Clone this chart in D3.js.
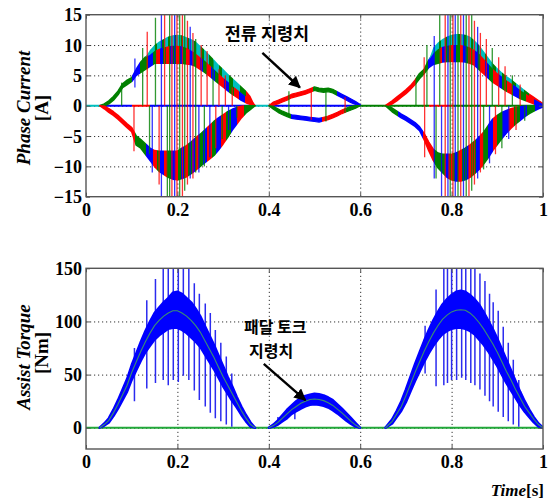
<!DOCTYPE html>
<html><head><meta charset="utf-8">
<script src="https://cdn.jsdelivr.net/npm/d3@7"></script>
<style>body{margin:0;background:#fff;} svg{display:block;}</style>
</head><body><svg id="c" width="560" height="502"></svg>
<script>
// ---------------- DATA ----------------
const xTicks = [0, 0.2, 0.4, 0.6, 0.8, 1];
const xTickLabels = ["0", "0.2", "0.4", "0.6", "0.8", "1"];
const yTicksTop = [-15, -10, -5, 0, 5, 10, 15];
const yTicksBot = [0, 50, 100, 150];

// sample times of the three conduction segments
const tA = [0.03,0.04,0.05,0.06,0.07,0.08,0.09,0.10,0.11,0.12,0.13,0.14,0.15,0.16,0.17,0.18,0.19,0.20,0.21,0.22,0.23,0.24,0.25,0.26,0.27,0.28,0.29,0.30,0.31,0.32,0.33,0.34,0.35,0.36,0.37];
const tB = [0.40,0.41,0.42,0.43,0.44,0.45,0.46,0.47,0.48,0.49,0.50,0.51,0.52,0.53,0.54,0.55,0.56,0.57,0.58,0.59,0.60];
const tC = [0.655,0.67,0.68,0.69,0.70,0.71,0.72,0.73,0.74,0.75,0.76,0.77,0.78,0.79,0.80,0.81,0.82,0.83,0.84,0.85,0.86,0.87,0.88,0.89,0.90,0.91,0.92,0.93,0.94,0.95,0.96,0.97,0.98,0.99,1.0];

// phase current envelopes [A]
const posTopA = [0,0.3,0.8,1.5,2.4,3.6,4.2,4.6,6.0,7.2,8.0,9.2,10.0,10.6,11.0,11.4,11.6,11.7,11.6,11.3,11.0,10.6,9.9,9.2,8.4,7.6,6.8,6.1,5.3,4.6,3.9,3.2,2.5,1.6,0];
const posMidA = [0,0.3,0.8,1.5,2.4,3.6,4.2,4.6,6.0,7.2,8.0,8.4,9.0,9.4,9.6,9.8,9.9,9.9,9.8,9.5,9.1,8.6,8.0,7.4,6.7,6.0,5.3,4.6,4.0,3.3,2.7,2.1,1.5,0.9,0];
const posBotA = [0,0,0.3,0.9,1.8,3.0,3.5,4.0,5.0,5.5,6.0,6.5,7.0,7.0,7.0,7.0,7.0,7.0,7.0,6.9,6.8,6.5,6.0,5.5,4.9,4.3,3.7,3.1,2.5,1.9,1.4,0.9,0.5,0.2,0];
const negHiA = [0,-0.1,-0.5,-1.0,-1.6,-2.3,-3.0,-3.6,-5.0,-5.6,-6.3,-7.0,-7.4,-7.5,-7.5,-7.5,-7.5,-7.5,-7.0,-6.6,-6.0,-5.3,-4.7,-4.0,-3.3,-2.6,-2.0,-1.5,-1.0,-0.6,-0.3,-0.1,0,0,0];
const negLoA = [0,-0.5,-1.1,-1.6,-2.2,-2.9,-3.6,-4.3,-6.5,-7.0,-8.0,-9.0,-10.0,-10.8,-11.3,-11.8,-12.1,-12.2,-12.0,-11.7,-11.2,-10.6,-10.0,-9.4,-8.8,-8.2,-7.3,-6.3,-5.2,-4.0,-3.0,-2.0,-1.2,-0.6,0];

const posTopB = [0,0.6,0.9,1.2,1.5,1.9,2.1,2.3,2.5,2.8,3.1,2.9,2.8,2.9,2.7,2.3,1.9,1.5,1.1,0.7,0.2];
const posBotB = [0,0.1,0.3,0.6,0.9,1.3,1.5,1.7,1.9,2.2,2.5,2.3,2.2,2.3,2.1,1.7,1.3,0.9,0.5,0.2,0];
const negHiB = [0,-0.1,-0.5,-0.9,-1.2,-1.5,-1.6,-1.7,-1.8,-1.9,-2.0,-2.1,-1.9,-1.7,-1.4,-1.1,-0.7,-0.4,-0.1,0,0];
const negLoB = [0,-0.6,-1.1,-1.5,-1.8,-2.1,-2.2,-2.3,-2.4,-2.5,-2.6,-2.7,-2.5,-2.3,-2.0,-1.7,-1.3,-1.0,-0.7,-0.4,0];

const posTopC = [0,0.8,1.4,2.0,2.6,3.3,4.2,5.3,6.0,7.5,9.6,10.4,11.0,11.4,11.7,11.8,11.8,11.7,11.4,10.8,10.0,9.0,8.0,7.0,6.2,5.5,4.9,4.4,3.8,3.2,2.6,2.0,1.5,1.0,0.5];
const posMidC = [0,0.8,1.4,2.0,2.6,3.3,4.2,5.3,6.0,7.5,8.6,9.3,9.7,9.9,10.0,10.0,10.0,9.9,9.6,9.2,8.6,7.8,6.9,6.1,5.4,4.8,4.2,3.7,3.2,2.6,2.1,1.6,1.1,0.7,0.3];
const posBotC = [0,0.3,0.8,1.4,2.0,2.7,3.5,4.5,5.3,6.3,6.8,7.0,7.2,7.3,7.3,7.3,7.3,7.2,7.0,6.7,6.0,5.3,4.6,3.9,3.4,2.9,2.4,2.0,1.6,1.2,0.9,0.6,0.3,0.1,0];
const negHiC = [0,-0.4,-0.9,-1.4,-1.8,-2.3,-2.8,-3.5,-4.6,-6.0,-7.2,-7.8,-8.0,-8.0,-8.0,-7.8,-7.4,-7.0,-6.5,-5.9,-5.2,-4.4,-3.3,-2.2,-1.6,-1.1,-0.8,-0.5,-0.3,-0.2,-0.1,0,0,0,0];
const negLoC = [0,-1.0,-1.5,-2.0,-2.4,-2.9,-3.4,-4.1,-5.6,-7.4,-9.0,-10.2,-11.0,-11.8,-12.2,-12.4,-12.4,-12.2,-11.8,-11.2,-10.5,-9.6,-8.6,-7.4,-6.4,-5.4,-4.5,-3.7,-3.0,-2.4,-1.8,-1.3,-0.9,-0.5,-0.2];

// which phase conducts (colour blocks) [t0, t1, phase]
const posBlocksA = [[0.03,0.10,"g"],[0.10,0.118,"b"],[0.118,0.135,"g"],[0.135,0.146,"b"],[0.146,0.153,"g"],[0.153,0.161,"r"],[0.161,0.168,"b"],[0.168,0.175,"g"],[0.175,0.183,"r"],[0.183,0.190,"b"],[0.190,0.197,"g"],[0.197,0.205,"r"],[0.205,0.212,"b"],[0.212,0.219,"g"],[0.219,0.227,"r"],[0.227,0.234,"b"],[0.234,0.241,"g"],[0.241,0.249,"r"],[0.249,0.257,"b"],[0.257,0.265,"g"],[0.265,0.274,"r"],[0.274,0.283,"b"],[0.283,0.292,"g"],[0.292,0.302,"r"],[0.302,0.312,"b"],[0.312,0.323,"g"],[0.323,0.335,"r"],[0.335,0.348,"b"],[0.348,0.37,"r"]];
const topBlocksA = [[0.14,0.152,"c"],[0.152,0.156,"g"],[0.156,0.166,"c"],[0.166,0.170,"g"],[0.170,0.180,"c"],[0.180,0.184,"g"],[0.184,0.194,"c"],[0.194,0.198,"g"],[0.198,0.208,"c"],[0.208,0.212,"g"],[0.212,0.222,"c"],[0.222,0.226,"g"],[0.226,0.236,"c"],[0.236,0.241,"g"],[0.241,0.252,"c"],[0.252,0.258,"g"],[0.258,0.270,"c"],[0.270,0.277,"g"],[0.277,0.290,"c"],[0.290,0.298,"g"],[0.298,0.312,"c"],[0.312,0.322,"g"],[0.322,0.338,"c"],[0.338,0.35,"g"],[0.35,0.37,"r"]];
const negBlocksA = [[0.03,0.108,"r"],[0.108,0.132,"g"],[0.132,0.146,"b"],[0.146,0.155,"r"],[0.155,0.163,"g"],[0.163,0.171,"b"],[0.171,0.179,"r"],[0.179,0.186,"g"],[0.186,0.193,"b"],[0.193,0.201,"r"],[0.201,0.208,"g"],[0.208,0.215,"b"],[0.215,0.223,"r"],[0.223,0.231,"g"],[0.231,0.239,"b"],[0.239,0.247,"r"],[0.247,0.256,"g"],[0.256,0.265,"b"],[0.265,0.275,"r"],[0.275,0.285,"g"],[0.285,0.295,"b"],[0.295,0.306,"r"],[0.306,0.318,"g"],[0.318,0.331,"b"],[0.331,0.345,"r"],[0.345,0.37,"g"]];
const posBlocksB = [[0.40,0.497,"r"],[0.497,0.55,"g"],[0.55,0.60,"b"]];
const negBlocksB = [[0.40,0.448,"g"],[0.448,0.516,"b"],[0.516,0.565,"r"],[0.565,0.60,"g"]];
const posBlocksC = [[0.655,0.722,"r"],[0.722,0.748,"g"],[0.748,0.762,"b"],[0.762,0.772,"g"],[0.772,0.780,"r"],[0.780,0.788,"b"],[0.788,0.795,"g"],[0.795,0.803,"r"],[0.803,0.810,"b"],[0.810,0.818,"g"],[0.818,0.825,"r"],[0.825,0.833,"b"],[0.833,0.840,"g"],[0.840,0.848,"r"],[0.848,0.856,"b"],[0.856,0.864,"g"],[0.864,0.873,"r"],[0.873,0.882,"b"],[0.882,0.891,"g"],[0.891,0.901,"r"],[0.901,0.911,"b"],[0.911,0.922,"g"],[0.922,0.934,"r"],[0.934,0.947,"b"],[0.947,0.962,"g"],[0.962,0.98,"r"],[0.98,1.0,"b"]];
const topBlocksC = [[0.76,0.772,"c"],[0.772,0.776,"g"],[0.776,0.786,"c"],[0.786,0.790,"g"],[0.790,0.800,"c"],[0.800,0.804,"g"],[0.804,0.814,"c"],[0.814,0.818,"g"],[0.818,0.828,"c"],[0.828,0.832,"g"],[0.832,0.842,"c"],[0.842,0.846,"g"],[0.846,0.856,"c"],[0.856,0.861,"g"],[0.861,0.872,"c"],[0.872,0.878,"g"],[0.878,0.890,"c"],[0.890,0.897,"g"],[0.897,0.910,"c"],[0.910,0.918,"g"],[0.918,0.932,"c"],[0.932,0.942,"g"],[0.942,0.958,"c"],[0.958,0.97,"g"],[0.97,1.0,"r"]];
const negBlocksC = [[0.655,0.683,"g"],[0.683,0.738,"b"],[0.738,0.762,"r"],[0.762,0.785,"g"],[0.785,0.793,"b"],[0.793,0.800,"r"],[0.800,0.808,"g"],[0.808,0.815,"b"],[0.815,0.823,"r"],[0.823,0.830,"g"],[0.830,0.838,"b"],[0.838,0.846,"r"],[0.846,0.854,"g"],[0.854,0.862,"b"],[0.862,0.871,"r"],[0.871,0.880,"g"],[0.880,0.890,"b"],[0.890,0.900,"r"],[0.900,0.911,"g"],[0.911,0.923,"b"],[0.923,0.936,"r"],[0.936,0.950,"g"],[0.950,0.966,"b"],[0.966,0.983,"g"],[0.983,1.0,"b"]];
const zeroBlocks = [[0,0.03,"c"],[0.03,0.10,"b"],[0.10,0.14,"r"],[0.14,0.37,"b"],[0.37,0.40,"c"],[0.40,0.60,"b"],[0.60,0.75,"g"],[0.75,0.80,"r"],[0.80,1.0,"g"]];

// commutation spikes [t, from, to, phase]
const currentSpikes = [
 [0.078,0,3.8,"g"],[0.105,-7.5,0,"r"],[0.107,3,7.8,"b"],[0.124,0,9.5,"g"],[0.134,0,12.2,"r"],[0.139,-8,0,"g"],[0.145,-11,0,"b"],[0.152,0,14.5,"g"],[0.160,-13,0,"r"],[0.165,-15,15,"b"],[0.172,0,15,"r"],[0.178,-15,0,"g"],[0.183,-15,15,"g"],[0.188,-15,15,"r"],[0.194,-15,15,"b"],[0.199,-15,15,"r"],[0.205,-15,15,"g"],[0.211,-15,15,"r"],[0.216,-14,15,"g"],[0.222,-13,14,"r"],[0.228,-12,13,"b"],[0.234,-12,12,"r"],[0.240,-11,11,"g"],[0.247,-11,0,"b"],[0.252,0,10,"r"],[0.259,-10,0,"g"],[0.265,0,9,"r"],[0.271,-8.5,0,"b"],[0.278,0,7.5,"g"],[0.284,-7,0,"r"],[0.291,0,6,"r"],[0.298,-5.5,0,"g"],[0.305,0,5,"r"],[0.312,-4,0,"b"],[0.320,0,3,"r"],[0.330,-2,0,"g"],
 [0.444,-1.8,2.4,"g"],[0.493,-2.3,2.9,"r"],[0.525,-2.6,2.8,"g"],[0.567,-1.2,1.4,"r"],
 [0.722,0,4.5,"g"],[0.740,0,8.0,"r"],[0.741,-8.5,0,"r"],[0.746,0,10,"g"],[0.762,-12,11.5,"b"],[0.766,-12,0,"g"],[0.774,0,15,"g"],[0.778,-15,0,"b"],[0.786,-15,15,"r"],[0.792,-15,15,"b"],[0.797,-15,15,"g"],[0.803,-15,15,"r"],[0.808,-15,15,"b"],[0.814,-15,15,"g"],[0.820,-15,15,"r"],[0.826,-15,15,"b"],[0.832,-15,15,"g"],[0.838,-15,15,"r"],[0.844,-14,15,"g"],[0.850,-13,14,"r"],[0.857,-12,13,"b"],[0.863,-11,12,"r"],[0.870,-10.5,0,"g"],[0.876,0,11,"r"],[0.883,-9.5,0,"b"],[0.889,0,9.5,"g"],[0.896,-8,0,"r"],[0.903,0,8,"r"],[0.910,-7,0,"g"],[0.917,0,6.5,"r"],[0.925,-5.5,0,"b"],[0.933,0,5,"g"],[0.941,-4,0,"r"],[0.950,0,3.5,"r"],[0.960,-2.5,0,"g"]
];

// assist torque [Nm]: reference (pedal torque command) and ripple envelope
const refA = [0,3,7,14,22,31,40,52,62,72,81,89,96,101,105,108,110,110,108,105,101,96,90,82,74,66,57,48,40,32,24,16,9,3,0];
const hiA  = [0,4,9,17,26,36,46,59,70,81,91,100,108,113,118,122,127,128,126,122,118,112,105,96,87,78,68,58,48,39,29,20,12,5,0];
const loA  = [0,2,5,11,18,26,34,45,54,63,71,77,83,87,90,93,94,94,92,89,85,81,76,69,62,55,47,39,32,25,19,12,6,1,0];
const refB = [0,2,5,9,13,17,20,23,25,26.5,27,26.5,25.5,23.5,21,17.5,14,10,6,2.5,0];
const hiB  = [0,3,7,12,17,21,25,28,30,31,32,31.5,30.5,28.5,26,22,18,13.5,9,4.5,0];
const loB  = [0,1,3,6,9,13,15.5,18,20,21.5,22,21.5,20.5,19,16.5,13.5,10,6.5,3.5,1,0];
const refC = [0,6,13,20,30,41,52,62,72,81,89,96,102,106,109,110.5,111,110.5,108,104,99,93,86,79,71,62,53,45,36,28,20,14,8,3,0];
const hiC  = [0,8,16,25,36,48,60,71,82,92,101,109,116,121,125,128,129,128,125,121,116,109,101,93,84,74,64,54,44,34,25,17,10,4,0];
const loC  = [0,4,10,16,24,34,44,53,62,70,77,83,88,91,93,94,94,93,91,88,83,78,72,65,58,50,42,35,28,21,15,10,5,1,0];
const torqueSpikes = [
 [0.106,25,75],[0.133,37,120],[0.152,42,140],[0.169,45,150],[0.180,40,150],[0.191,45,150],[0.202,43,150],[0.213,49,150],[0.225,45,150],[0.237,35,136],[0.248,26,126],[0.261,20,117],[0.272,14,108],[0.283,9,92],[0.295,6,80],[0.307,3,67],[0.319,1,51],
 [0.420,4,10],[0.457,8,20],
 [0.742,51,96],[0.766,39,130],[0.783,40,150],[0.791,42,150],[0.800,45,150],[0.811,45,150],[0.822,47,150],[0.831,45,150],[0.842,42,150],[0.851,40,150],[0.862,36,145],[0.873,30,138],[0.883,25,126],[0.891,20,118],[0.902,15,110],[0.913,10,95],[0.924,6,80],[0.935,3,64],[0.947,1,45]
];

// annotations (data coordinates)
const noteTop = {text: "전류 지령치", t: 0.396, v: 11.8, from: [0.386, 8.7], to: [0.468, 3.0]};
const noteBot = {lines: ["패달 토크", "지령치"], t: [0.414, 0.405], v: [94.5, 72], from: [0.389, 60], to: [0.48, 26]};

// ---------------- DRAW ----------------
const COL = {r: "#ff0000", g: "#008000", b: "#0000ff", c: "#00bfbf"};
const svg = d3.select("#c");
const defs = svg.append("defs");
const L = 86, R = 543;
const topY0 = 14.7, topY1 = 196.7, botY0 = 268.3, botY1 = 449;
const x = d3.scaleLinear().domain([0, 1]).range([L, R]);
const yT = d3.scaleLinear().domain([-15, 15]).range([topY1, topY0]);
const yB = d3.scaleLinear().domain([-20, 150]).range([botY1, botY0]);
const serif = "'Liberation Serif','Times New Roman',serif";
const frameCol = "#555";

let gid = 0;
function blockGradient(blocks) {
  const id = "gr" + (gid++);
  const g = defs.append("linearGradient").attr("id", id).attr("gradientUnits", "userSpaceOnUse")
    .attr("x1", x(0)).attr("x2", x(1)).attr("y1", 0).attr("y2", 0);
  blocks.forEach(([t0, t1, c]) => {
    g.append("stop").attr("offset", t0).attr("stop-color", COL[c]);
    g.append("stop").attr("offset", t1).attr("stop-color", COL[c]);
  });
  return `url(#${id})`;
}
function clip(id, y0, y1) {
  defs.append("clipPath").attr("id", id).append("rect")
    .attr("x", L).attr("y", y0).attr("width", R - L).attr("height", y1 - y0);
}
clip("clipTop", topY0, topY1);
clip("clipBot", botY0, botY1);

function drawFrame(y, y0, y1, grid) {
  const g = svg.append("g");
  g.append("g").attr("transform", `translate(0,${y1})`)
    .call(d3.axisBottom(x).tickValues([0.2, 0.4, 0.6, 0.8]).tickSize(-(y1 - y0)).tickFormat(""))
    .call(s => s.select(".domain").remove())
    .call(s => s.selectAll("line").attr("stroke", "#333").attr("stroke-dasharray", "1.2,2.8").attr("stroke-width", 1));
  g.append("g").attr("transform", `translate(${L},0)`)
    .call(d3.axisLeft(y).tickValues(grid).tickSize(-(R - L)).tickFormat(""))
    .call(s => s.select(".domain").remove())
    .call(s => s.selectAll("line").attr("stroke", "#333").attr("stroke-dasharray", "1.2,2.8").attr("stroke-width", 1));
}
function drawAxes(y, y0, y1, yTicks, labelBaseline) {
  const g = svg.append("g");
  const fontS = s => s.selectAll("text").attr("font-family", serif).attr("font-weight", "bold").attr("font-size", 18).attr("fill", "#000");
  g.append("g").attr("transform", `translate(0,${y1})`)
    .call(d3.axisBottom(x).tickValues(xTicks).tickSize(-4).tickPadding(0).tickFormat((d, i) => xTickLabels[i]))
    .call(s => s.select(".domain").remove())
    .call(s => s.selectAll("line").attr("stroke", frameCol))
    .call(fontS)
    .call(s => s.selectAll("text").attr("y", labelBaseline - y1).attr("dy", null));
  g.append("g").attr("transform", `translate(0,${y0})`)
    .call(d3.axisTop(x).tickValues(xTicks).tickSize(-4).tickFormat(""))
    .call(s => s.select(".domain").remove())
    .call(s => s.selectAll("line").attr("stroke", frameCol));
  g.append("g").attr("transform", `translate(${L},0)`)
    .call(d3.axisLeft(y).tickValues(yTicks).tickSize(-4).tickPadding(8).tickFormat(d3.format("d")))
    .call(s => s.select(".domain").remove())
    .call(s => s.selectAll("line").attr("stroke", frameCol))
    .call(fontS)
    .call(s => s.selectAll("text").attr("x", -4).attr("dy", "0.34em"));
  g.append("g").attr("transform", `translate(${R},0)`)
    .call(d3.axisRight(y).tickValues(yTicks).tickSize(-4).tickFormat(""))
    .call(s => s.select(".domain").remove())
    .call(s => s.selectAll("line").attr("stroke", frameCol));
  g.append("rect").attr("x", L).attr("y", y0).attr("width", R - L).attr("height", y1 - y0)
    .attr("fill", "none").attr("stroke", frameCol).attr("stroke-width", 1.4);
}

// ---- top plot ----
drawFrame(yT, topY0, topY1, [-10, -5, 0, 5, 10]);
const gT = svg.append("g").attr("clip-path", "url(#clipTop)");
gT.append("line").attr("x1", x(0)).attr("x2", x(1)).attr("y1", yT(0)).attr("y2", yT(0))
  .attr("stroke", blockGradient(zeroBlocks)).attr("stroke-width", 2);

function band(g, ts, lo, hi, fill, sw) {
  const data = ts.map((t, i) => [t, lo[i], hi[i]]);
  g.append("path").datum(data)
    .attr("d", d3.area().x(d => x(d[0])).y0(d => yT(d[1])).y1(d => yT(d[2])))
    .attr("fill", fill).attr("stroke", sw ? fill : "none").attr("stroke-width", sw || 0)
    .attr("stroke-linejoin", "round");
}
band(gT, tA, posBotA, posMidA, blockGradient(posBlocksA), 1.6);
band(gT, tA, posMidA, posTopA, blockGradient(topBlocksA), 0);
band(gT, tA, negLoA, negHiA, blockGradient(negBlocksA), 1.6);
band(gT, tB, posBotB, posTopB, blockGradient(posBlocksB), 1.2);
band(gT, tB, negLoB, negHiB, blockGradient(negBlocksB), 1.2);
band(gT, tC, posBotC, posMidC, blockGradient(posBlocksC), 1.6);
band(gT, tC, posMidC, posTopC, blockGradient(topBlocksC), 0);
band(gT, tC, negLoC, negHiC, blockGradient(negBlocksC), 1.6);

gT.selectAll("line.sp").data(currentSpikes).join("line").attr("class", "sp")
  .attr("x1", d => x(d[0])).attr("x2", d => x(d[0]))
  .attr("y1", d => yT(d[1])).attr("y2", d => yT(d[2]))
  .attr("stroke", d => COL[d[3]]).attr("stroke-width", 1.3).attr("opacity", 0.8);

drawAxes(yT, topY0, topY1, yTicksTop, 216);

// ---- bottom plot ----
drawFrame(yB, botY0, botY1, [0, 50, 100]);
const gB = svg.append("g").attr("clip-path", "url(#clipBot)");
gB.append("line").attr("x1", x(0)).attr("x2", x(1)).attr("y1", yB(0)).attr("y2", yB(0))
  .attr("stroke", "#22a83a").attr("stroke-width", 1.8);
gB.selectAll("line.sp").data(torqueSpikes).join("line").attr("class", "sp")
  .attr("x1", d => x(d[0])).attr("x2", d => x(d[0]))
  .attr("y1", d => yB(d[1])).attr("y2", d => yB(d[2]))
  .attr("stroke", "#2b2bef").attr("stroke-width", 1.5);
function tband(ts, lo, hi, ref) {
  const data = ts.map((t, i) => [t, lo[i], hi[i], ref[i]]);
  gB.append("path").datum(data)
    .attr("d", d3.area().x(d => x(d[0])).y0(d => yB(d[1])).y1(d => yB(d[2])))
    .attr("fill", "#0000ff").attr("stroke", "#0000ff").attr("stroke-width", 2.4).attr("stroke-linejoin", "round");
  gB.append("path").datum(data)
    .attr("d", d3.line().x(d => x(d[0])).y(d => yB(d[3])))
    .attr("fill", "none").attr("stroke", "#3a8f73").attr("stroke-width", 1.1);
}
tband(tA, loA, hiA, refA);
tband(tB, loB, hiB, refB);
tband(tC, loC, hiC, refC);
drawAxes(yB, botY0, botY1, yTicksBot, 468);

// ---- axis titles ----
function ytitle(cx, cy, txt, italic) {
  svg.append("text").attr("transform", `translate(${cx},${cy}) rotate(-90)`)
    .attr("text-anchor", "middle").attr("font-family", serif).attr("font-weight", "bold")
    .attr("font-style", italic ? "italic" : "normal").attr("font-size", 19).text(txt);
}
ytitle(30, 108, "Phase Current", true);
ytitle(48, 108, "[A]", false);
ytitle(30, 357, "Assist Torque", true);
ytitle(48, 353, "[Nm]", false);
const tt = svg.append("text").attr("x", R + 1).attr("y", 496).attr("text-anchor", "end")
  .attr("font-family", serif).attr("font-weight", "bold").attr("font-size", 17);
tt.append("tspan").attr("font-style", "italic").text("Time");
tt.append("tspan").text("[s]");

// ---- annotations ----
defs.append("marker").attr("id", "ah").attr("viewBox", "0 0 10 10").attr("refX", 9).attr("refY", 5)
  .attr("markerWidth", 5).attr("markerHeight", 5).attr("orient", "auto")
  .append("path").attr("d", "M0,0 L10,5 L0,10 z").attr("fill", "#000");
const kfont = "'Noto Sans CJK KR','Noto Sans',sans-serif";
svg.append("text").attr("x", x(noteTop.t)).attr("y", yT(noteTop.v)).attr("dy", "0.36em")
  .attr("text-anchor", "middle").attr("font-family", kfont).attr("font-weight", "bold").attr("font-size", 17.5)
  .text(noteTop.text);
svg.append("line").attr("x1", x(noteTop.from[0])).attr("y1", yT(noteTop.from[1]))
  .attr("x2", x(noteTop.to[0])).attr("y2", yT(noteTop.to[1]))
  .attr("stroke", "#000").attr("stroke-width", 2.4).attr("marker-end", "url(#ah)");
const nb = svg.append("text").attr("text-anchor", "middle").attr("font-family", kfont)
  .attr("font-weight", "bold").attr("font-size", 16);
noteBot.lines.forEach((s, i) => {
  nb.append("tspan").attr("x", x(noteBot.t[i])).attr("y", yB(noteBot.v[i])).attr("dy", "0.36em").text(s);
});
svg.append("line").attr("x1", x(noteBot.from[0])).attr("y1", yB(noteBot.from[1]))
  .attr("x2", x(noteBot.to[0])).attr("y2", yB(noteBot.to[1]))
  .attr("stroke", "#000").attr("stroke-width", 2.4).attr("marker-end", "url(#ah)");
</script></body></html>
